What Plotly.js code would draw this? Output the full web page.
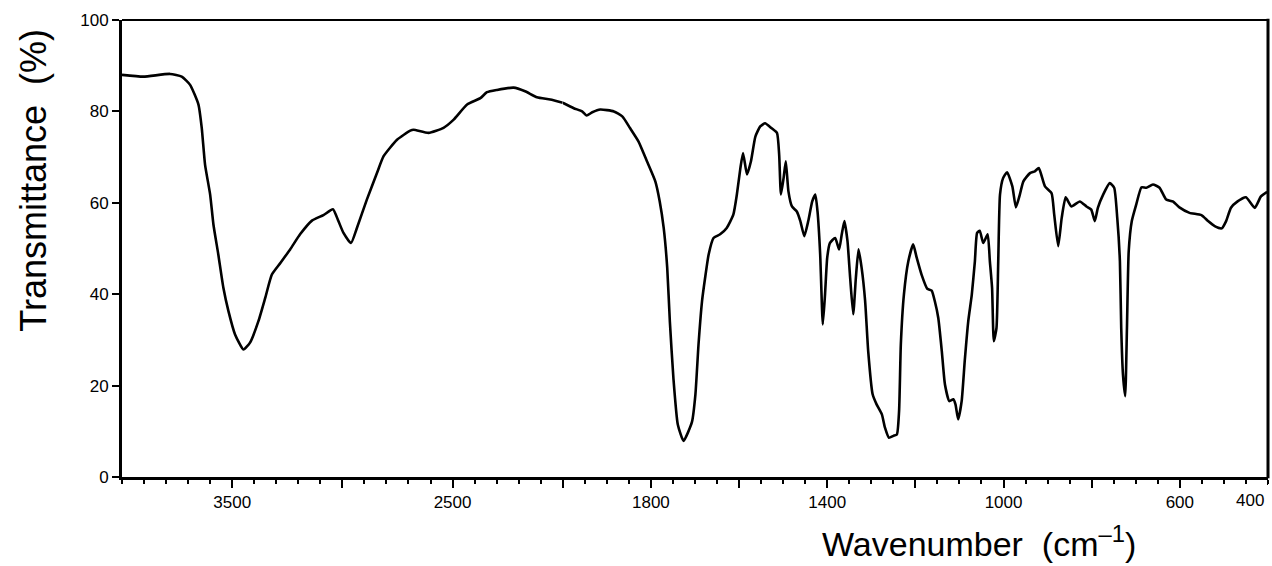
<!DOCTYPE html>
<html>
<head>
<meta charset="utf-8">
<script src="https://cdn.plot.ly/plotly-3.0.1.min.js"></script>
<style>html,body{margin:0;padding:0;background:#fff;}#chart{width:1272px;height:566px;}</style>
</head>
<body>
<div id="chart"></div>
<script>
// IR spectrum, wavenumber (cm-1) vs transmittance (%)
const wavenumber = [4000, 3903, 3782, 3729, 3691, 3653, 3638, 3623, 3600, 3585, 3563, 3540, 3517, 3487, 3449, 3419, 3381, 3350, 3320, 3282, 3237, 3192, 3138, 3086, 3043, 3018, 2995, 2961, 2934, 2889, 2843, 2813, 2752, 2692, 2677, 2609, 2541, 2495, 2434, 2374, 2344, 2298, 2223, 2171, 2117, 2057, 2000,
  1975, 1956, 1946, 1933, 1915, 1884, 1865, 1847, 1828, 1809, 1790, 1780, 1771, 1763, 1757, 1749, 1739, 1726, 1707, 1699, 1692, 1684, 1677, 1669, 1658, 1643, 1628, 1613, 1605, 1597, 1591, 1582, 1573, 1563, 1552, 1541, 1526, 1514, 1509, 1505, 1499, 1494, 1488, 1480, 1469, 1461, 1452, 1443, 1434, 1427, 1422, 1416, 1410, 1405, 1400, 1394, 1382, 1373, 1367, 1361, 1354, 1348, 1341, 1335, 1329, 1322, 1314, 1307, 1297, 1288, 1276, 1269, 1260, 1250, 1242, 1237, 1233, 1226, 1216, 1205, 1197, 1186, 1173, 1163, 1156, 1148, 1140, 1133, 1123, 1114, 1109, 1103, 1095, 1088, 1080, 1072, 1065, 1060, 1054, 1046, 1036, 1031, 1026, 1022, 1016, 1012, 1008, 1001, 992, 980, 972, 963, 955, 940, 929, 920, 906, 891, 885, 876, 868, 859, 846, 827, 812, 801, 793, 786, 774, 759, 749, 742, 736, 733, 729, 724, 720, 716, 709, 699, 687, 676, 661, 646, 631, 616, 601, 578, 551, 536, 521, 505, 495, 484, 469, 450, 430, 416, 402];
const transmittance = [88.0, 87.6, 88.2, 87.6, 85.8, 81.5, 76.3, 68.3, 61.8, 55.2, 48.7, 41.4, 36.3, 31.2, 27.9, 29.4, 34.1, 39.2, 44.3, 46.8, 49.8, 53.1, 56.1, 57.3, 58.6, 56.0, 53.4, 51.2, 54.5, 60.7, 66.5, 70.2, 73.8, 75.8, 76.0, 75.3, 76.4, 78.2, 81.5, 82.9, 84.2, 84.7, 85.2, 84.4, 83.1, 82.6, 81.9,
  80.7, 80.0, 79.1, 79.8, 80.4, 80.0, 78.9, 76.3, 73.4, 69.1, 64.7, 60.3, 54.5, 45.8, 34.0, 21.7, 11.5, 7.9, 12.0, 18.1, 29.0, 38.5, 43.6, 48.7, 52.3, 53.1, 54.5, 57.4, 61.8, 67.6, 70.9, 66.2, 69.1, 74.5, 76.7, 77.4, 76.3, 75.3, 70.5, 61.8, 65.4, 69.1, 62.5, 59.2, 58.1, 56.0, 52.7, 56.0, 60.3, 61.8, 58.1, 48.7, 33.4, 39.9, 48.0, 51.2, 52.3, 49.8, 53.1, 56.0, 51.6, 43.6, 35.6, 43.6, 49.8, 45.8, 38.5, 27.5, 18.1, 15.9, 13.7, 10.8, 8.6, 9.0, 9.3, 14.4, 29.0, 39.9, 47.2, 50.9, 48.0, 44.3, 41.2, 40.8, 38.5, 34.8, 27.5, 20.3, 16.6, 17.0, 15.9, 12.6, 16.6, 25.4, 34.1, 39.9, 47.2, 53.4, 53.9, 51.2, 53.1, 47.2, 41.4, 29.7, 32.6, 47.2, 61.8, 65.4, 66.7, 63.6, 59.0, 61.8, 64.7, 66.5, 66.9, 67.6, 63.6, 62.1, 57.4, 50.5, 56.7, 61.2, 59.2, 60.3, 59.2, 58.5, 56.0, 58.9, 61.8, 64.3, 63.3, 56.7, 47.2, 32.6, 22.4, 17.7, 32.6, 49.4, 56.0, 59.6, 63.4, 63.3, 64.0, 63.3, 60.7, 60.3, 59.0, 57.8, 57.3, 56.0, 54.9, 54.4, 56.0, 58.9, 60.3, 61.2, 58.9, 61.4, 62.4];

// Axis ticks (scale change at 2000 cm-1)
const highTickVals = [3500, 3000, 2500, 2000];
const highTickText = ['3500', ' ', '2500', ' '];
const lowTickVals = [1800, 1600, 1400, 1200, 1000, 800, 600];
const lowTickText = ['1800', ' ', '1400', ' ', '1000', ' ', '600'];
const yTickVals = [0, 20, 40, 60, 80, 100];
const yTickText = ['0', '20', '40', '60', '80', '100'];
const xTitle = 'Wavenumber\u00a0\u00a0(cm<sup>\u20131</sup>)';
const yTitle = 'Transmittance\u00a0\u00a0(%)';
const edgeLabel = '400';

const hiX = [], hiY = [], loX = [], loY = [];
wavenumber.forEach((w, i) => {
  if (w >= 2000) { hiX.push(w); hiY.push(transmittance[i]); }
  if (w <= 2000) { loX.push(w); loY.push(transmittance[i]); }
});

const lineStyle = {color: '#000', width: 2.6, shape: 'spline', smoothing: 0.5};
const traces = [
  {x: hiX, y: hiY, xaxis: 'x', yaxis: 'y', mode: 'lines', line: lineStyle, hoverinfo: 'skip'},
  {x: loX, y: loY, xaxis: 'x2', yaxis: 'y', mode: 'lines', line: lineStyle, hoverinfo: 'skip'}
];

const tickFont = {family: 'Liberation Sans, Arial, sans-serif', size: 17, color: '#000'};
const split = 0.3846;
const xCommon = {
  anchor: 'y', showgrid: false, zeroline: false, showline: true, linecolor: '#000', linewidth: 3,
  ticks: 'outside', ticklen: 8, tickwidth: 2, tickcolor: '#000', tickmode: 'array',
  tickfont: tickFont, fixedrange: true
};

const layout = {
  width: 1272, height: 566,
  margin: {l: 122, r: 4, t: 20, b: 89},
  paper_bgcolor: '#fff', plot_bgcolor: '#fff',
  showlegend: false,
  xaxis: Object.assign({}, xCommon, {
    domain: [0, split], range: [4000, 2000],
    tickvals: highTickVals, ticktext: highTickText,
    minor: {ticks: 'outside', ticklen: 4, tickwidth: 2, tickcolor: '#000', tick0: 0, dtick: 100}
  }),
  xaxis2: Object.assign({}, xCommon, {
    domain: [split, 1], range: [2000, 400],
    tickvals: lowTickVals, ticktext: lowTickText,
    minor: {ticks: 'outside', ticklen: 4, tickwidth: 2, tickcolor: '#000', tick0: 0, dtick: 50}
  }),
  yaxis: {
    range: [0, 100], showgrid: false, zeroline: false, showline: true,
    linecolor: '#000', linewidth: 3, ticks: 'outside', ticklen: 7, tickwidth: 2, tickcolor: '#000',
    tickmode: 'array', tickvals: yTickVals, ticktext: yTickText, tickfont: tickFont, fixedrange: true
  },
  shapes: [
    {type: 'line', xref: 'paper', yref: 'paper', x0: 0, x1: 1, y0: 1, y1: 1, line: {color: '#000', width: 2}},
    {type: 'line', xref: 'paper', yref: 'paper', x0: 1, x1: 1, y0: -0.003, y1: 1.003, line: {color: '#000', width: 3}},
    {type: 'line', xref: 'x2', yref: 'paper', x0: 400, x1: 400, y0: 0, y1: -0.0175, line: {color: '#000', width: 2}}
  ],
  annotations: [
    {text: edgeLabel, xref: 'x2', yref: 'paper', x: 400, y: -0.052, xanchor: 'right', yanchor: 'middle',
     xshift: -2, showarrow: false, font: tickFont},
    {text: xTitle, xref: 'paper', yref: 'paper', x: 0.7475, y: -0.142, xanchor: 'center', yanchor: 'middle',
     showarrow: false, font: {family: 'Liberation Sans, Arial, sans-serif', size: 34, color: '#000'}},
    {text: yTitle, xref: 'paper', yref: 'paper', x: -0.077, y: 0.65, xanchor: 'center', yanchor: 'middle',
     textangle: -90, showarrow: false, font: {family: 'Liberation Sans, Arial, sans-serif', size: 36, color: '#000'}}
  ]
};

Plotly.newPlot('chart', traces, layout, {displayModeBar: false, staticPlot: true});
</script>
</body>
</html>
